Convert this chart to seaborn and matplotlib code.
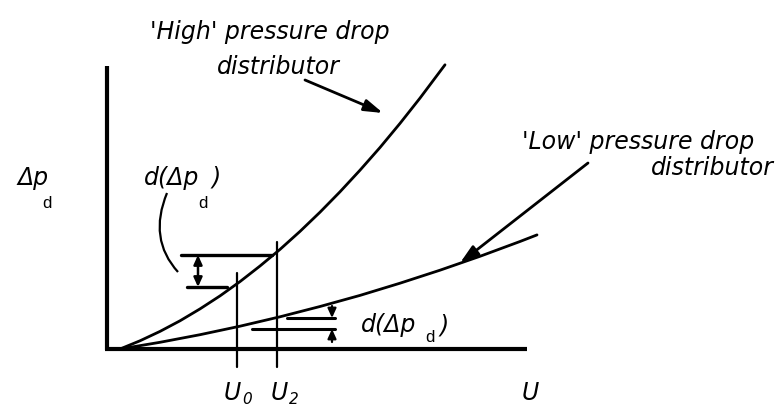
import matplotlib
matplotlib.use("Agg")
import matplotlib.pyplot as plt
from matplotlib.patches import FancyArrowPatch, PathPatch
from matplotlib.path import Path
import pandas as pd
import seaborn as sns

# Superficial velocity U and distributor pressure drop for the two designs
u_high = [0, 2, 4, 6, 8, 10, 12, 14, 16, 18, 20, 22, 24, 26, 28, 30, 32.5]
dp_high = [0, 0.82, 1.76, 2.82, 4.01, 5.31, 6.74, 8.30, 9.96, 11.76,
           13.68, 15.72, 17.88, 20.15, 22.56, 25.09, 28.42]
u_low = [0, 4, 8, 12, 16, 20, 24, 28, 32, 36, 40, 41.7]
dp_low = [0, 0.67, 1.43, 2.28, 3.22, 4.25, 5.36, 6.58, 7.88, 9.27, 10.75, 11.41]

# Two operating velocities and the pressure-drop changes between them
u_marks = {"U0": 11.7, "U2": 15.7}
high_levels = [6.2, 9.4]
low_levels = [2.0, 3.1]

sns.set_theme(style="white")
plt.rcParams["font.family"] = ["DejaVu Sans"]

fig = plt.figure(figsize=(7.79, 4.09), dpi=100)
ax = fig.add_axes([0, 0, 1, 1])
ax.set_xlim(-12, 65.9)
ax.set_ylim(-6.0, 34.9)
ax.set_axis_off()

ink = "black"
high_df = pd.DataFrame({"U": u_high, "dp": dp_high})
low_df = pd.DataFrame({"U": u_low, "dp": dp_low})
sns.lineplot(data=high_df, x="U", y="dp", estimator=None, sort=False,
             color=ink, lw=2.0, ax=ax)
sns.lineplot(data=low_df, x="U", y="dp", estimator=None, sort=False,
             color=ink, lw=2.0, ax=ax)

# Hand-drawn style axes
ax.plot([-1.3, -1.3], [-0.1, 28.3], color=ink, lw=3.0, solid_capstyle="butt")
ax.plot([-1.5, 40.7], [0, 0], color=ink, lw=3.0, solid_capstyle="butt")

# Velocity markers
ax.plot([u_marks["U0"]] * 2, [-1.8, 7.6], color=ink, lw=1.6)
ax.plot([u_marks["U2"]] * 2, [-1.8, 10.7], color=ink, lw=1.6)

small_head = "-|>,head_length=2.2,head_width=1.0"

# Pressure-drop change on the high curve
ax.plot([6.1, 15.2], [high_levels[1]] * 2, color=ink, lw=2.4)
ax.plot([6.7, 10.7], [high_levels[0]] * 2, color=ink, lw=2.4)
ax.add_patch(FancyArrowPatch((7.8, high_levels[0]), (7.8, high_levels[1]),
                             arrowstyle="<|-|>,head_length=2.2,head_width=1.0",
                             color=ink, lw=1.8, shrinkA=0, shrinkB=0,
                             mutation_scale=2.5))

# Pressure-drop change on the low curve
ax.plot([16.7, 21.5], [low_levels[1]] * 2, color=ink, lw=2.2)
ax.plot([13.2, 21.5], [low_levels[0]] * 2, color=ink, lw=2.2)
ax.add_patch(FancyArrowPatch((21.2, 4.3), (21.2, low_levels[1]),
                             arrowstyle=small_head, color=ink, lw=1.6,
                             shrinkA=0, shrinkB=0, mutation_scale=2.5))
ax.add_patch(FancyArrowPatch((21.2, 0.7), (21.2, low_levels[0]),
                             arrowstyle=small_head, color=ink, lw=1.6,
                             shrinkA=0, shrinkB=0, mutation_scale=2.5))

# Curved leader from the upper d(Δp) label
leader = Path([(4.7, 15.6), (2.8, 11.0), (5.8, 7.7)],
              [Path.MOVETO, Path.CURVE3, Path.CURVE3])
ax.add_patch(PathPatch(leader, fill=False, color=ink, lw=1.6))

# Pointer arrows to each curve
big_head = "-|>,head_length=4.5,head_width=1.4"
ax.add_patch(FancyArrowPatch((18.5, 26.9), (26.3, 23.6), arrowstyle=big_head,
                             color=ink, lw=2.0, shrinkA=0, shrinkB=0,
                             mutation_scale=2.5))
ax.add_patch(FancyArrowPatch((46.8, 18.6), (34.0, 8.6), arrowstyle=big_head,
                             color=ink, lw=2.0, shrinkA=0, shrinkB=0,
                             mutation_scale=2.5))

# Labels
lab = dict(color=ink, fontsize=17, style="italic", ha="center", va="center")
sub = dict(color=ink, fontsize=12, family=["Liberation Sans"],
           ha="center", va="center")

ax.text(15.0, 31.7, "'High' pressure drop", **lab)
ax.text(15.8, 28.2, "distributor", **lab)
ax.text(51.85, 20.7, "'Low' pressure drop", **lab)
ax.text(59.2, 18.1, "distributor", **lab)

ax.text(-8.7, 17.1, "Δp", **lab)
ax.text(-7.3, 14.6, "d", **sub)

ax.text(5.2, 17.1, "d(Δp", **lab)
ax.text(8.3, 14.6, "d", **sub)
ax.text(9.6, 17.1, ")", **lab)

ax.text(26.9, 2.4, "d(Δp", **lab)
ax.text(31.0, 1.2, "d", **sub)
ax.text(32.4, 2.4, ")", **lab)

ax.text(11.2, -4.4, "U", **lab)
ax.text(12.7, -5.0, "0", **dict(lab, fontsize=11))
ax.text(15.9, -4.4, "U", **lab)
ax.text(17.4, -5.0, "2", **dict(lab, fontsize=11))
ax.text(41.0, -4.4, "U", **lab)

fig.savefig("out.png", dpi=100, facecolor="white")
